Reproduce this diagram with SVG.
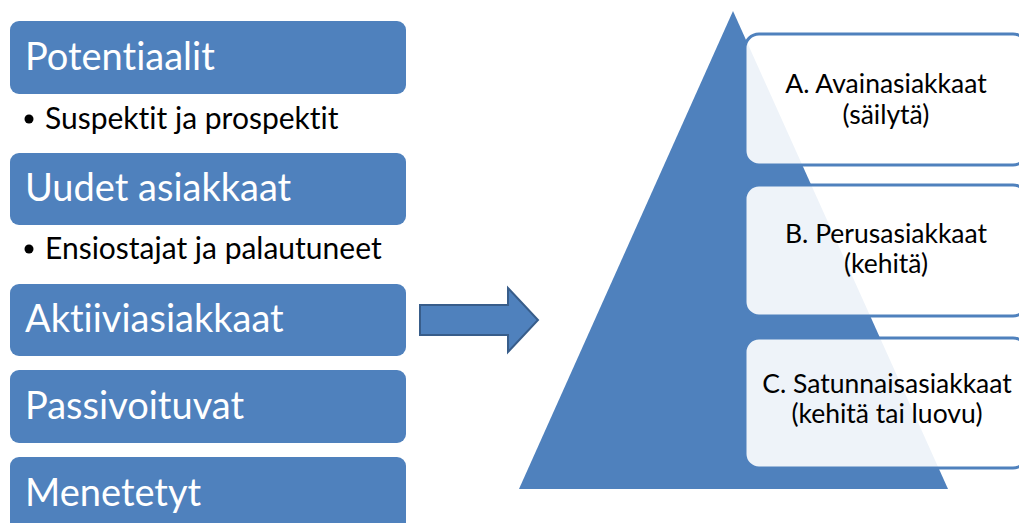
<svg xmlns="http://www.w3.org/2000/svg" width="1019" height="523" viewBox="0 0 1019 523">
  <style>
    text { font-family: "Lato", "Liberation Sans", sans-serif; font-variant-ligatures: none; }
    .stage { fill: #4f81bd; }
    .stage-label { font-size: 38px; fill: #ffffff; }
    .note { font-size: 30px; fill: #000000; }
    .tier { fill: #ffffff; fill-opacity: 0.9; stroke: #4f81bd; stroke-width: 3; }
    .tier-label { font-size: 26.5px; fill: #000000; text-anchor: middle; }
  </style>
  <rect width="1019" height="523" fill="#ffffff"/>

  <!-- customer lifecycle stages -->
  <g id="potentiaalit">
    <rect class="stage" x="10" y="21" width="396" height="73" rx="9"/>
    <text class="stage-label" x="25" y="70">Potentiaalit</text>
  </g>
  <g id="suspektit">
    <circle cx="29" cy="119" r="4.5" fill="#000000"/>
    <text class="note" x="45" y="129">Suspektit ja prospektit</text>
  </g>
  <g id="uudet">
    <rect class="stage" x="10" y="153" width="396" height="72" rx="9"/>
    <text class="stage-label" x="25" y="201">Uudet asiakkaat</text>
  </g>
  <g id="ensiostajat">
    <circle cx="29" cy="249" r="4.5" fill="#000000"/>
    <text class="note" x="45" y="259">Ensiostajat ja palautuneet</text>
  </g>
  <g id="aktiivi">
    <rect class="stage" x="10" y="284" width="396" height="72" rx="9"/>
    <text class="stage-label" x="25" y="332">Aktiiviasiakkaat</text>
  </g>
  <g id="passivoituvat">
    <rect class="stage" x="10" y="370" width="396" height="73" rx="9"/>
    <text class="stage-label" x="25" y="419">Passivoituvat</text>
  </g>
  <g id="menetetyt">
    <rect class="stage" x="10" y="457" width="396" height="80" rx="9"/>
    <text class="stage-label" x="25" y="506">Menetetyt</text>
  </g>

  <!-- block arrow -->
  <g id="connectors">
    <path d="M420,305 L508,305 L508,288 L538,320 L508,352 L508,335 L420,335 Z" fill="#4f81bd" stroke="#385d8a" stroke-width="2" stroke-linejoin="miter"/>
  </g>

  <!-- customer pyramid -->
  <g id="pyramid">
    <path class="stage" d="M733,11 L948,489 L519,489 Z"/>
  </g>
  <g id="tier-a">
    <rect class="tier" x="745" y="34" width="282" height="131" rx="14"/>
    <text class="tier-label" x="886" y="93">A. Avainasiakkaat</text>
    <text class="tier-label" x="886" y="124">(säilytä)</text>
  </g>
  <g id="tier-b">
    <rect class="tier" x="745" y="185" width="282" height="131" rx="14"/>
    <text class="tier-label" x="886" y="243">B. Perusasiakkaat</text>
    <text class="tier-label" x="886" y="273">(kehitä)</text>
  </g>
  <g id="tier-c">
    <rect class="tier" x="745" y="338" width="282" height="130" rx="14"/>
    <text class="tier-label" x="887" y="393">C. Satunnaisasiakkaat</text>
    <text class="tier-label" x="887" y="423">(kehitä tai luovu)</text>
  </g>
</svg>
